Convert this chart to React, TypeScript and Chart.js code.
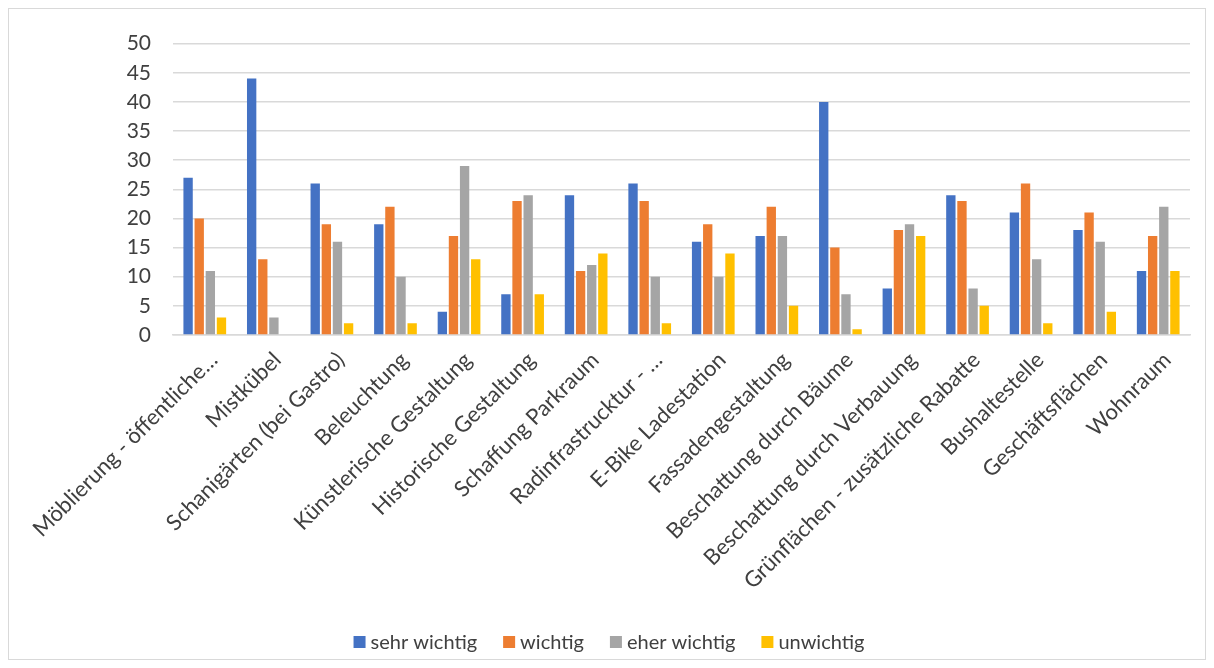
import React, { useEffect, useRef } from "react";
import { Chart, registerables } from "chart.js";

Chart.register(...registerables);

const categories = [
  "Möblierung - öffentliche…",
  "Mistkübel",
  "Schanigärten (bei Gastro)",
  "Beleuchtung",
  "Künstlerische Gestaltung",
  "Historische Gestaltung",
  "Schaffung Parkraum",
  "Radinfrastrucktur - …",
  "E-Bike Ladestation",
  "Fassadengestaltung",
  "Beschattung durch Bäume",
  "Beschattung durch Verbauung",
  "Grünflächen - zusätzliche Rabatte",
  "Bushaltestelle",
  "Geschäftsflächen",
  "Wohnraum",
];

const sehrWichtig = [27, 44, 26, 19, 4, 7, 24, 26, 16, 17, 40, 8, 24, 21, 18, 11];
const wichtig = [20, 13, 19, 22, 17, 23, 11, 23, 19, 22, 15, 18, 23, 26, 21, 17];
const eherWichtig = [11, 3, 16, 10, 29, 24, 12, 10, 10, 17, 7, 19, 8, 13, 16, 22];
const unwichtig = [3, 0, 2, 2, 13, 7, 14, 2, 14, 5, 1, 17, 5, 2, 4, 11];

const seriesNames = ["sehr wichtig", "wichtig", "eher wichtig", "unwichtig"];
const seriesColors = ["#4472C4", "#ED7D31", "#A5A5A5", "#FFC000"];

const FONT = "Lato, 'Open Sans', sans-serif";
const TEXT = "#404040";

// Single-row legend centred under the plot, drawn from the datasets.
const bottomLegend = {
  id: "bottomLegend",
  afterDraw(chart: any) {
    const ctx = chart.ctx as CanvasRenderingContext2D;
    const box = 12;
    const textGap = 5;
    const itemGap = 26;
    const y = chart.height - 17;
    ctx.save();
    ctx.font = `20px ${FONT}`;
    ctx.textBaseline = "middle";
    ctx.textAlign = "left";
    const items = chart.data.datasets.map((ds: any) => ({
      label: ds.label as string,
      color: ds.backgroundColor as string,
      w: box + textGap + ctx.measureText(ds.label).width,
    }));
    const total =
      items.reduce((a: number, it: any) => a + it.w, 0) + itemGap * (items.length - 1);
    let x = 600 - total / 2;
    for (const it of items) {
      ctx.fillStyle = it.color;
      ctx.fillRect(x, y - box / 2, box, box);
      ctx.fillStyle = TEXT;
      ctx.fillText(it.label, x + box + textGap, y + 1);
      x += it.w + itemGap;
    }
    ctx.restore();
  },
};

export default function App() {
  const ref = useRef<HTMLCanvasElement | null>(null);

  useEffect(() => {
    if (!ref.current) return;
    const values = [sehrWichtig, wichtig, eherWichtig, unwichtig];
    const chart = new Chart(ref.current, {
      type: "bar",
      data: {
        labels: categories,
        datasets: values.map((v, i) => ({
          label: seriesNames[i],
          data: v,
          backgroundColor: seriesColors[i],
          borderWidth: 0,
          barPercentage: 0.84,
          categoryPercentage: 0.7,
        })),
      },
      options: {
        animation: false,
        responsive: false,
        maintainAspectRatio: false,
        layout: { padding: { left: 20, right: 15, top: 33, bottom: 54 } },
        plugins: {
          legend: { display: false },
          tooltip: { enabled: false },
        },
        scales: {
          x: {
            afterFit: (s: any) => {
              s.height = 270;
            },
            grid: { display: false },
            border: { display: true, color: "#d9d9d9", width: 1.5 },
            ticks: {
              maxRotation: 45,
              minRotation: 45,
              autoSkip: false,
              color: TEXT,
              font: { family: FONT, size: 22 },
              padding: 4,
              labelOffset: 9,
            },
          },
          y: {
            min: 0,
            max: 50,
            afterFit: (s: any) => {
              s.width = 144;
            },
            ticks: {
              stepSize: 5,
              color: TEXT,
              font: { family: FONT, size: 21 },
              padding: 22,
            },
            grid: { color: "#d9d9d9", lineWidth: 1.5, drawTicks: false },
            border: { display: false },
          },
        },
      },
      plugins: [bottomLegend],
    });
    return () => chart.destroy();
  }, []);

  return (
    <div
      style={{
        width: 1198,
        height: 652,
        border: "1px solid #d9d9d9",
        boxSizing: "border-box",
        background: "#fff",
      }}
    >
      <canvas ref={ref} width={1196} height={650} style={{ display: "block" }} />
    </div>
  );
}
